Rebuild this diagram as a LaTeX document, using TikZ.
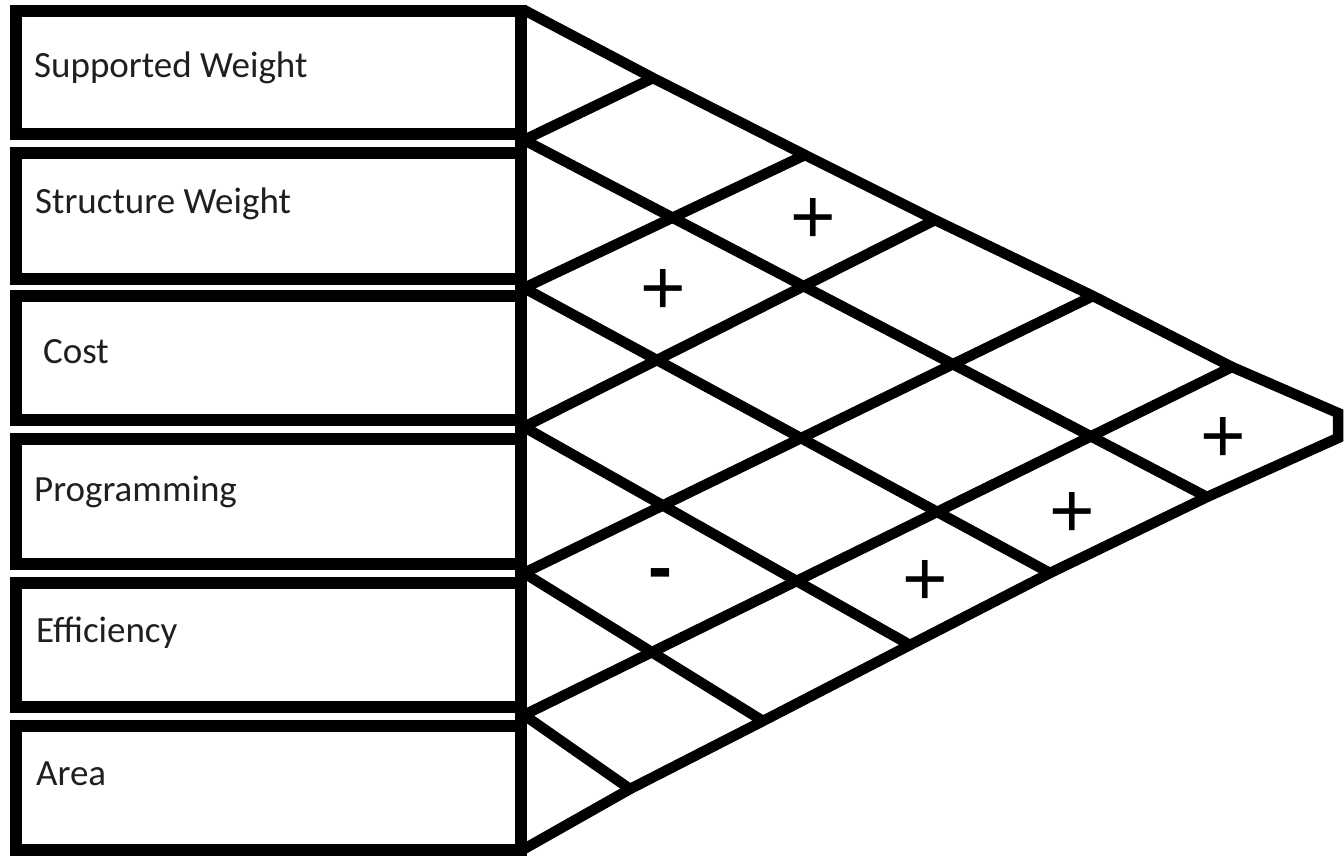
\documentclass[tikz,border=0pt]{standalone}
\usepackage{fontspec}
\setmainfont{Carlito}
\newfontfamily\signfont{Liberation Sans}
\begin{document}
\begin{tikzpicture}[x=1pt,y=-1pt,
  itembox/.style={draw=black, line width=12.5pt, minimum width=505pt, inner sep=0pt, outer sep=0pt},
  itemlabel/.style={anchor=base west, inner sep=0pt, font=\fontsize{37}{42}\selectfont, text=black!88},
  roofline/.style={draw=black, line width=10.5pt, line join=miter},
  sign/.style={inner sep=0pt, font=\signfont\fontsize{78}{80}\selectfont}]
\useasboundingbox (0,0) rectangle (1344,856);

% requirement boxes
\node[itembox, minimum height=123pt] (b1) at (268.5,72.5) {};
\node[itembox, minimum height=126pt] (b2) at (268.5,216) {};
\node[itembox, minimum height=124pt] (b3) at (268.5,358) {};
\node[itembox, minimum height=125pt] (b4) at (268.5,501.5) {};
\node[itembox, minimum height=124pt] (b5) at (268.5,645) {};
\node[itembox, minimum height=124pt] (b6) at (268.5,788) {};

\node[itemlabel] (t1) at (34,78)  {Supported Weight};
\node[itemlabel] (t2) at (35,213) {Structure Weight};
\node[itemlabel] (t3) at (43,363) {Cost};
\node[itemlabel] (t4) at (34,501) {Programming};
\node[itemlabel] (t5) at (36,642) {Efficiency};
\node[itemlabel] (t6) at (36,785) {Area};

% correlation roof: left points, top edge, bottom edge
\coordinate (L0) at (524,10);
\coordinate (L1) at (524,140);
\coordinate (L2) at (524,288);
\coordinate (L3) at (524,427);
\coordinate (L4) at (524,573);
\coordinate (L5) at (524,715);
\coordinate (L6) at (524,849);

\coordinate (T1) at (653,78);
\coordinate (T2) at (805,155);
\coordinate (T3) at (935,220);
\coordinate (T4) at (1093,296);
\coordinate (T5) at (1232,367);
\coordinate (A1) at (1338,413);
\coordinate (A2) at (1338,438);
\coordinate (B1) at (1207,497);
\coordinate (B2) at (1050,573);
\coordinate (B3) at (910,645);
\coordinate (B4) at (763,721);
\coordinate (B5) at (630,789);

% shared right border of the boxes
\draw[line width=12.5pt] (521,5) -- (521,856);

% outline of the roof
\draw[roofline] (L0) -- (T1) -- (T2) -- (T3) -- (T4) -- (T5) -- (A1)
  -- (A2) -- (B1) -- (B2) -- (B3) -- (B4) -- (B5) -- (L6);

% rising lines
\draw[roofline] (L1) -- (T1);
\draw[roofline] (L2) -- (T2);
\draw[roofline] (L3) -- (T3);
\draw[roofline] (L4) -- (T4);
\draw[roofline] (L5) -- (T5);
% falling lines
\draw[roofline] (L1) -- (B1);
\draw[roofline] (L2) -- (B2);
\draw[roofline] (L3) -- (B3);
\draw[roofline] (L4) -- (B4);
\draw[roofline] (L5) -- (B5);

% correlation marks
\node[sign] (c13) at (813,221) {+};
\node[sign] (c23) at (663,292) {+};
\node[sign] (c16) at (1223,440) {+};
\node[sign] (c26) at (1072,515) {+};
\node[sign] (c36) at (925,583) {+};
\node[sign, font=\signfont\bfseries\fontsize{72}{80}\selectfont] (c45) at (660,580) {-};
\end{tikzpicture}
\end{document}
